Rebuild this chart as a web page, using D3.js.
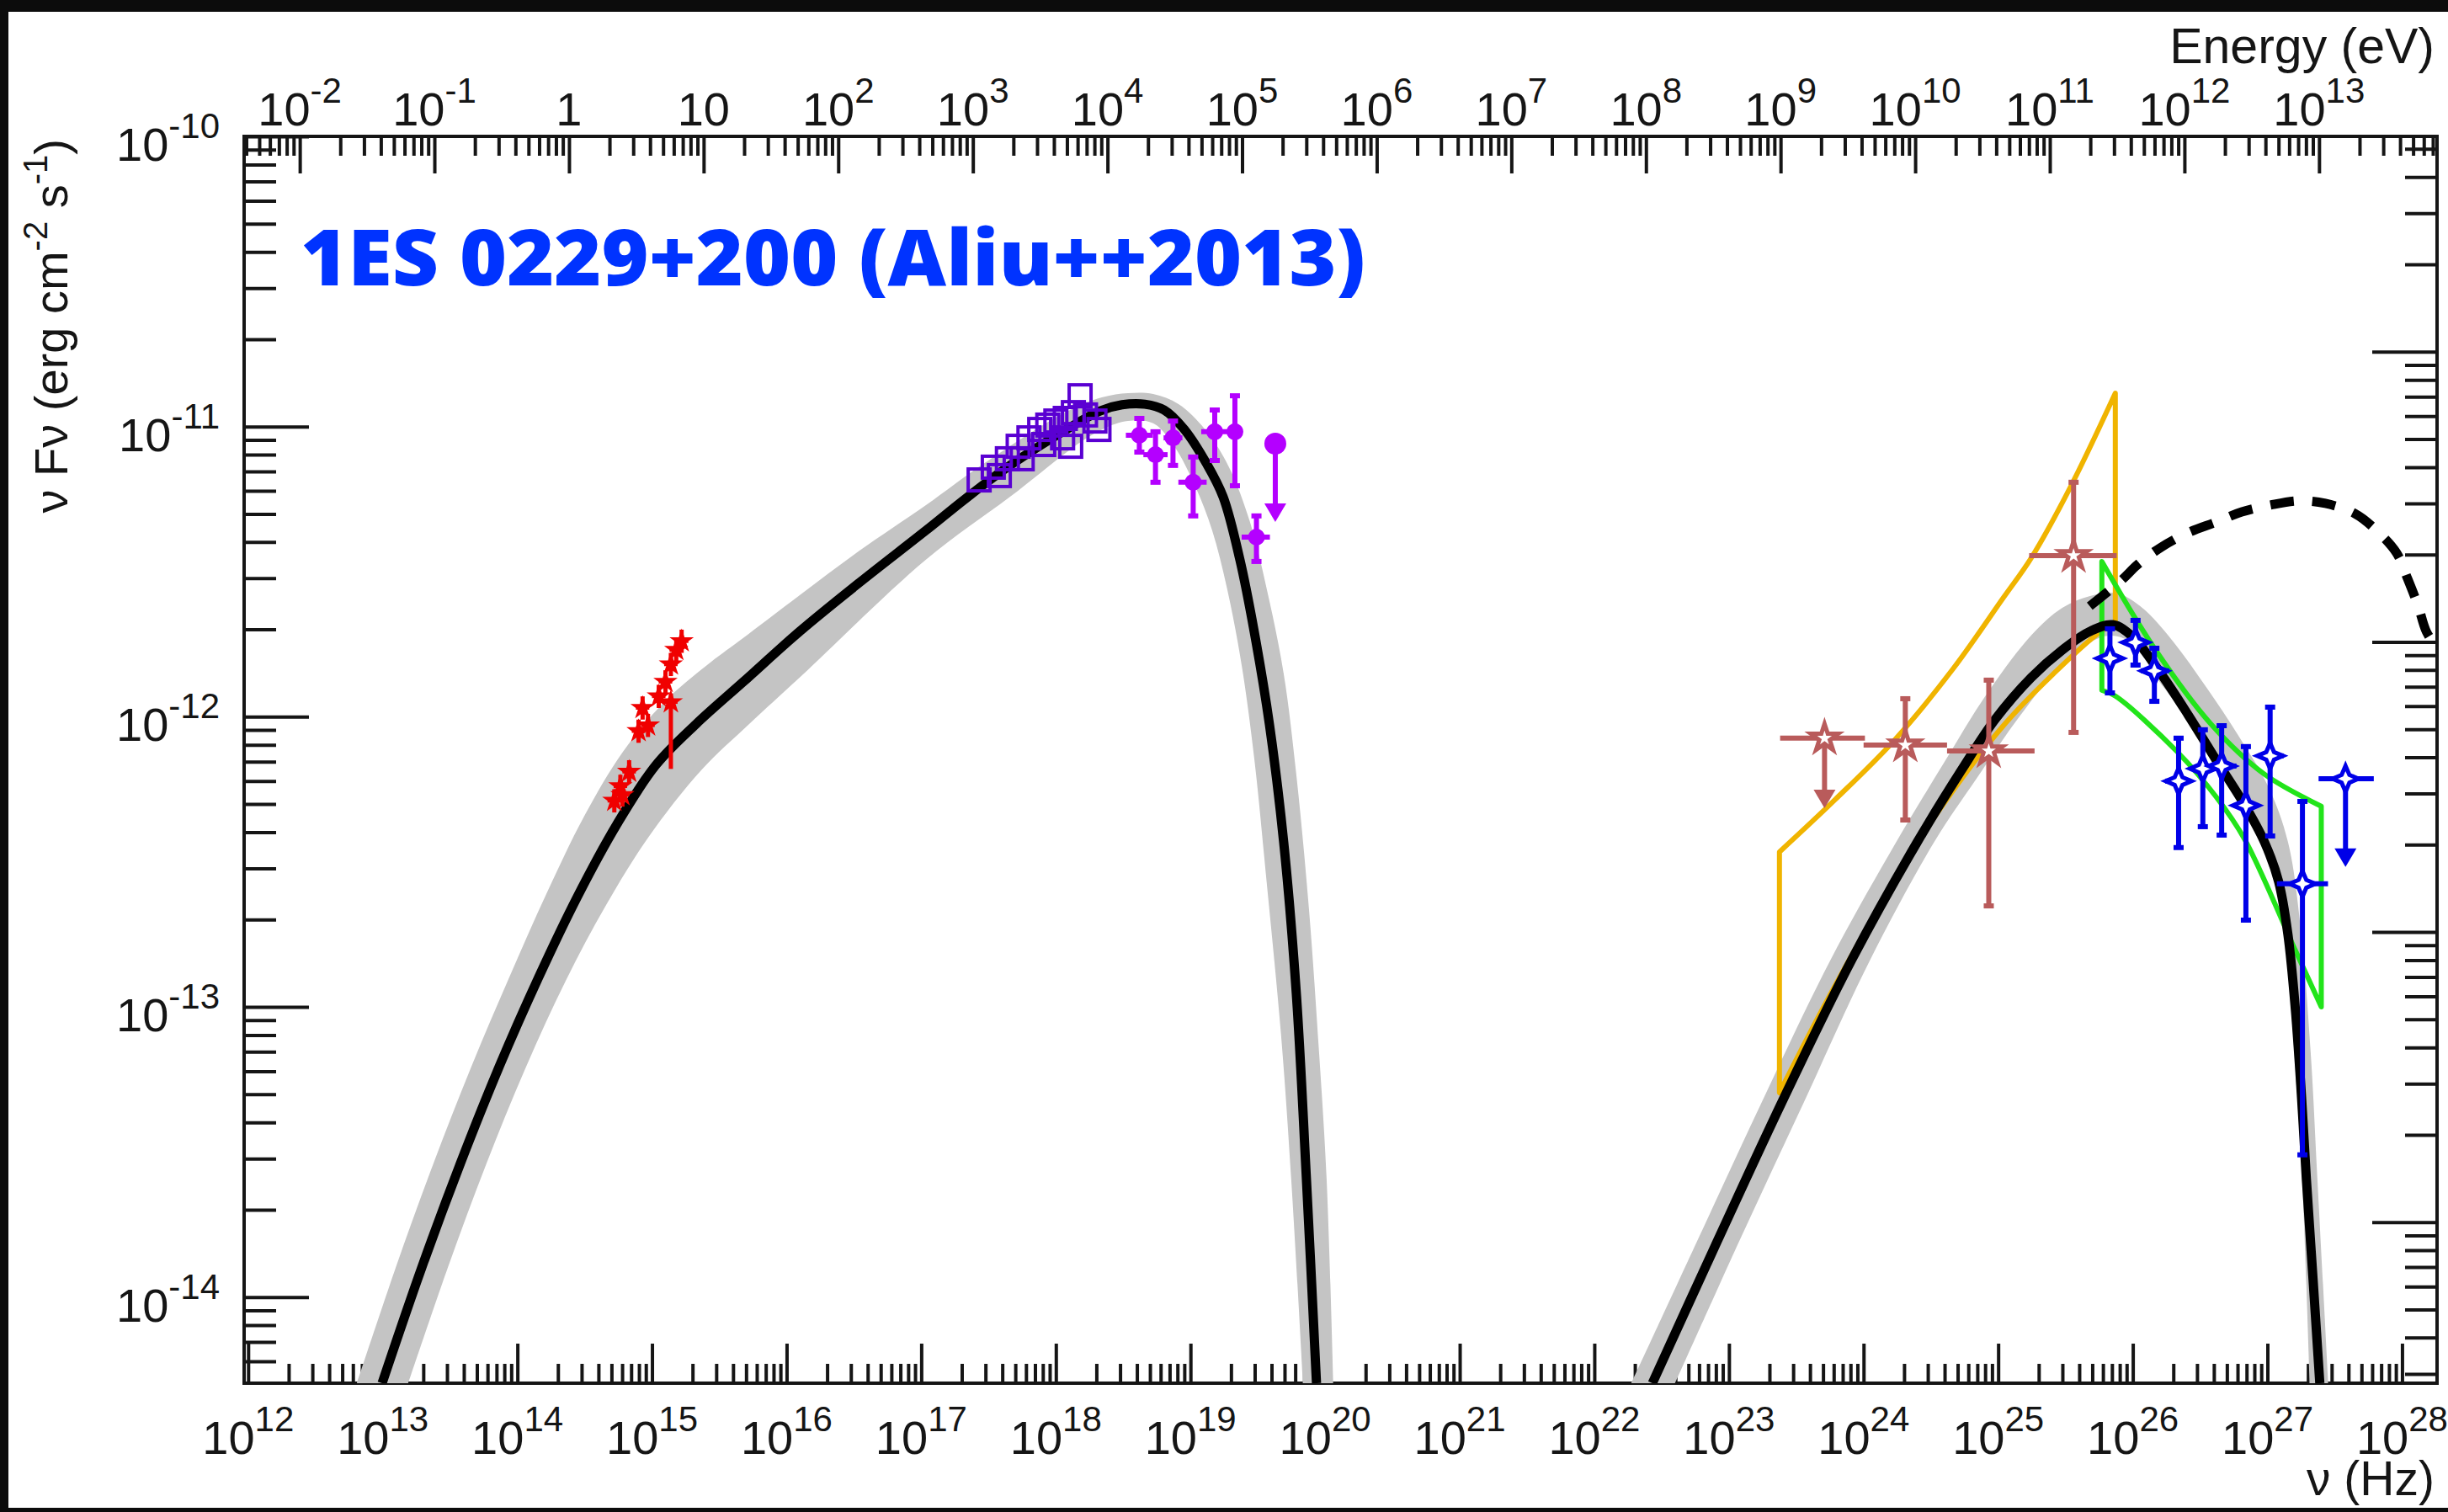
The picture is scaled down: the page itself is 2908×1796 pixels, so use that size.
<!DOCTYPE html>
<html>
<head>
<meta charset="utf-8">
<script src="https://cdn.jsdelivr.net/npm/d3@7"></script>
<style>
  body { margin: 0; background: #0c0c0c; }
  svg { display: block; }
  text { font-family: "Liberation Sans", Arial, Helvetica, sans-serif; fill: #151515; }
</style>
</head>
<body>
<svg id="chart" width="2908" height="1796"></svg>
<script>
// SED of 1ES 0229+200, values are log10(nu / Hz) and log10(nuFnu / erg cm-2 s-1)

// synchrotron + inverse Compton model (black line)
var syncModel = [
  [12.995, -14.297], [13.289, -13.899], [13.577, -13.539], [13.865, -13.206], [14.158, -12.898],
  [14.446, -12.620], [14.740, -12.370], [15.028, -12.167], [15.328, -12.025], [15.678, -11.880],
  [16.097, -11.706], [16.535, -11.540], [17.035, -11.358], [17.347, -11.242], [17.660, -11.134],
  [18.079, -11.010], [18.329, -10.946], [18.492, -10.925], [18.660, -10.923], [18.804, -10.943],
  [18.954, -11.010], [19.117, -11.126], [19.242, -11.242], [19.367, -11.459], [19.473, -11.706],
  [19.586, -12.025], [19.692, -12.431], [19.786, -12.953], [19.861, -13.592], [19.936, -14.297]
];
var icModel = [
  [22.431, -14.297], [22.912, -13.809], [23.406, -13.316], [23.913, -12.837], [24.400, -12.431],
  [24.726, -12.185], [24.976, -12.010], [25.245, -11.865], [25.476, -11.770], [25.682, -11.706],
  [25.851, -11.683], [25.995, -11.723], [26.208, -11.851], [26.414, -11.996], [26.620, -12.150],
  [26.833, -12.306], [26.977, -12.431], [27.083, -12.568], [27.152, -12.750], [27.208, -13.011],
  [27.252, -13.301], [27.289, -13.592], [27.339, -13.940], [27.389, -14.297]
];
// intrinsic (de-absorbed) model, dashed
var intrinsicModel = [
  [25.68, -11.619], [25.91, -11.532], [26.04, -11.474], [26.21, -11.416], [26.41, -11.366],
  [26.62, -11.329], [26.81, -11.294], [27.02, -11.271], [27.23, -11.256], [27.43, -11.265],
  [27.65, -11.300], [27.81, -11.358], [27.96, -11.436], [28.04, -11.523], [28.12, -11.619],
  [28.18, -11.706], [28.26, -11.764]
];

// grey uncertainty bands: outer edge and inner edge
var syncBandOuter = [
  [12.808, -14.297], [13.096, -13.899], [13.377, -13.539], [13.658, -13.206], [13.940, -12.898],
  [14.221, -12.605], [14.502, -12.338], [14.784, -12.121], [15.096, -11.947], [15.409, -11.822],
  [15.659, -11.735], [16.097, -11.581], [16.535, -11.430], [17.035, -11.271], [17.454, -11.131],
  [18.079, -10.949], [18.348, -10.899], [18.535, -10.885], [18.723, -10.888], [18.911, -10.923],
  [19.117, -11.015], [19.286, -11.140], [19.442, -11.329], [19.567, -11.561], [19.692, -11.851],
  [19.786, -12.199], [19.880, -12.663], [19.955, -13.156], [20.011, -13.592], [20.061, -14.297]
];
var syncBandInner = [
  [13.189, -14.297], [13.483, -13.899], [13.771, -13.539], [14.065, -13.206], [14.359, -12.910],
  [14.659, -12.649], [14.971, -12.417], [15.365, -12.185], [15.722, -12.025], [16.097, -11.865],
  [17.035, -11.459], [17.660, -11.242], [18.285, -11.024], [18.535, -10.981], [18.723, -10.989],
  [18.879, -11.068], [19.036, -11.207], [19.161, -11.358], [19.273, -11.561], [19.380, -11.822],
  [19.473, -12.141], [19.567, -12.576], [19.673, -13.098], [19.748, -13.592], [19.836, -14.297]
];
var icBandOuter = [
  [22.275, -14.297], [22.762, -13.809], [23.256, -13.316], [23.756, -12.837], [24.225, -12.446],
  [24.601, -12.156], [24.913, -11.923], [25.245, -11.720], [25.476, -11.625], [25.682, -11.584],
  [25.882, -11.575], [26.070, -11.625], [26.289, -11.735], [26.539, -11.894], [26.789, -12.069],
  [27.008, -12.243], [27.152, -12.431], [27.245, -12.721], [27.321, -13.156], [27.371, -13.592],
  [27.452, -14.297]
];
var icBandInner = [
  [22.600, -14.297], [23.075, -13.809], [23.569, -13.316], [24.050, -12.837], [24.526, -12.431],
  [24.838, -12.214], [25.163, -11.996], [25.476, -11.822], [25.789, -11.723], [25.976, -11.741],
  [26.208, -11.886], [26.476, -12.048], [26.727, -12.222], [26.945, -12.402], [27.058, -12.562],
  [27.127, -12.750], [27.177, -13.011], [27.220, -13.301], [27.258, -13.592], [27.314, -14.297]
];

// Fermi-LAT butterfly (yellow) and VERITAS butterfly (green)
var fermiBowUpper = [[23.375, -12.466], [23.788, -12.286], [24.225, -12.083], [24.663, -11.836], [25.038, -11.590], [25.245, -11.453], [25.538, -11.207], [25.870, -10.885]];
var fermiBowLower = [[23.375, -13.296], [23.663, -13.035], [23.950, -12.791], [24.225, -12.570], [24.538, -12.338], [25.038, -12.031], [25.413, -11.851], [25.745, -11.712], [25.870, -11.677]];
var veritasBowUpper = [[25.77, -11.465], [26.16, -11.764], [26.58, -12.025], [26.98, -12.199], [27.40, -12.309]];
var veritasBowLower = [[25.77, -11.909], [25.87, -11.929], [26.33, -12.121], [26.62, -12.277], [26.83, -12.422], [27.21, -12.808], [27.40, -13.000]];

// points: logNu, logF, logNuLo, logNuHi, logFLo, logFHi, upper limit
var fermiPts = [
  [23.71, -12.074, 23.38, 24.01, -12.315, -12.074, 1],
  [24.31, -12.098, 24.00, 24.62, -12.356, -11.938, 0],
  [24.93, -12.118, 24.62, 25.27, -12.652, -11.874, 0],
  [25.56, -11.445, 25.23, 25.88, -12.054, -11.192, 0]
];
var veritasPts = [
  [25.83, -11.799, 25.75, 25.91, -11.918, -11.697, 0],
  [26.02, -11.744, 25.93, 26.11, -11.822, -11.668, 0],
  [26.16, -11.842, 26.06, 26.27, -11.947, -11.764, 0],
  [26.34, -12.222, 26.24, 26.43, -12.451, -12.074, 0],
  [26.52, -12.179, 26.43, 26.62, -12.379, -12.045, 0],
  [26.66, -12.170, 26.58, 26.77, -12.408, -12.031, 0],
  [26.84, -12.306, 26.75, 26.93, -12.701, -12.103, 0],
  [27.02, -12.135, 26.93, 27.12, -12.411, -11.967, 0],
  [27.26, -12.576, 27.07, 27.45, -13.510, -12.292, 0],
  [27.58, -12.214, 27.38, 27.79, -12.518, -12.214, 1]
];
var hardXPts = [
  [18.62, -11.030, 18.52, 18.72, -11.088, -10.972, 0],
  [18.74, -11.097, 18.65, 18.83, -11.192, -11.018, 0],
  [18.87, -11.039, 18.80, 18.94, -11.134, -10.981, 0],
  [19.02, -11.192, 18.91, 19.12, -11.308, -11.105, 0],
  [19.18, -11.018, 19.08, 19.28, -11.117, -10.943, 0],
  [19.33, -11.018, 19.30, 19.36, -11.204, -10.894, 0],
  [19.49, -11.381, 19.38, 19.59, -11.465, -11.308, 0],
  [19.63, -11.059, 19.63, 19.63, -11.329, -11.059, 1]
];
var softXPts = [
  [17.43, -11.184], [17.535, -11.140], [17.64, -11.111], [17.58, -11.169], [17.72, -11.068],
  [17.80, -11.039], [17.75, -11.111], [17.88, -11.010], [17.94, -10.995], [17.91, -11.062],
  [18.00, -10.981], [18.07, -10.972], [18.05, -11.039], [18.13, -10.952], [18.18, -10.894],
  [18.22, -10.960], [18.29, -10.981], [18.32, -11.010], [18.11, -11.068]
];
// optical / UV: logNu, logF, logFLo, logFHi
var opticalPts = [
  [14.72, -12.29, -12.33, -12.25], [14.765, -12.24, -12.28, -12.20], [14.78, -12.27, -12.31, -12.23],
  [14.83, -12.19, -12.23, -12.15], [14.90, -12.05, -12.09, -12.01], [14.93, -11.97, -12.01, -11.93],
  [14.97, -12.03, -12.07, -11.99], [15.05, -11.93, -11.97, -11.89], [15.10, -11.88, -11.92, -11.84],
  [15.14, -11.82, -11.86, -11.78], [15.18, -11.77, -11.81, -11.73], [15.22, -11.74, -11.78, -11.70],
  [15.14, -11.95, -12.18, -11.92]
];

var hPlanck = 4.135667e-15; // eV s
var frame = {left: 290, right: 2895, top: 162, bottom: 1643};

var svg = d3.select("#chart");
var p10 = function(v) { return Math.pow(10, v); };

var x = d3.scaleLog().domain([p10(11.97), p10(28.26)]).range([frame.left, frame.right]);
var y = d3.scaleLog().domain([p10(-14.297), 1e-10]).range([frame.bottom, frame.top]);
// right hand axis of the original canvas is offset from the left one
var yRight = d3.scaleLog().domain([p10(-13.555), p10(-9.258)]).range([frame.bottom, frame.top]);
var xE = d3.scaleLog().domain([p10(11.97) * hPlanck, p10(28.26) * hPlanck]).range([frame.left, frame.right]);

var px = function(d) { return x(p10(d[0])); };
var py = function(d) { return y(p10(d[1])); };

// page background
svg.append("rect").attr("x", 10).attr("y", 14).attr("width", 2898).attr("height", 1777).attr("fill", "#ffffff");

// log ticks, split into decades and the 2..9 in between
function logTicks(scale) {
  var dom = scale.domain(), major = [], minor = [];
  var lo = Math.floor(Math.log10(dom[0])), hi = Math.ceil(Math.log10(dom[1]));
  for (var k = lo; k <= hi; k++) {
    for (var m = 1; m < 10; m++) {
      var v = m * p10(k);
      if (v < dom[0] * 0.9999 || v > dom[1] * 1.0001) continue;
      (m === 1 ? major : minor).push(v);
    }
  }
  return {major: major, minor: minor};
}

function drawAxis(axisFn, scale, transform, majorLen, minorLen) {
  var t = logTicks(scale);
  [[t.major, majorLen], [t.minor, minorLen]].forEach(function(set) {
    var g = svg.append("g").attr("transform", transform)
      .call(axisFn(scale).tickValues(set[0]).tickSize(set[1]).tickSizeOuter(0).tickFormat(""));
    g.select(".domain").remove();
    g.selectAll(".tick line").attr("stroke", "#151515").attr("stroke-width", 4);
  });
  return t;
}

var xt = drawAxis(d3.axisBottom, x, "translate(0," + frame.bottom + ")", -47, -23);
var et = drawAxis(d3.axisTop, xE, "translate(0," + frame.top + ")", -44, -23);
var yt = drawAxis(d3.axisLeft, y, "translate(" + frame.left + ",0)", -77, -38);
drawAxis(d3.axisRight, yRight, "translate(" + frame.right + ",0)", -77, -38);

// frame
svg.append("rect")
  .attr("x", frame.left).attr("y", frame.top)
  .attr("width", frame.right - frame.left).attr("height", frame.bottom - frame.top)
  .attr("fill", "none").attr("stroke", "#151515").attr("stroke-width", 4);

// "10^k" style labels
function powLabel(k, lx, ly, anchor, plain) {
  var t = svg.append("text").attr("x", lx).attr("y", ly)
    .attr("text-anchor", anchor).style("font-size", "56px");
  if (plain && k === 0) { t.text("1"); return; }
  if (plain && k === 1) { t.text("10"); return; }
  t.append("tspan").text("10");
  t.append("tspan").attr("dy", -27).style("font-size", "42px").text(k);
}

xt.major.forEach(function(v) { powLabel(Math.round(Math.log10(v)), x(v), 1727, "middle"); });
et.major.forEach(function(v) { powLabel(Math.round(Math.log10(v)), xE(v), 149, "middle", true); });
yt.major.forEach(function(v) { powLabel(Math.round(Math.log10(v)), 261, y(v) + 29, "end"); });

// axis titles
svg.append("text").attr("x", 2892).attr("y", 75).attr("text-anchor", "end")
  .style("font-size", "59px").text("Energy (eV)");
svg.append("text").attr("x", 2892).attr("y", 1776).attr("text-anchor", "end")
  .style("font-size", "57px").text("\u03bd (Hz)");
var yTitle = svg.append("text").attr("transform", "translate(80,165) rotate(-90)")
  .attr("text-anchor", "end").style("font-size", "56px");
yTitle.append("tspan").text("\u03bd F\u03bd (erg cm");
yTitle.append("tspan").attr("dy", -24).style("font-size", "40px").text("-2");
yTitle.append("tspan").attr("dy", 24).text(" s");
yTitle.append("tspan").attr("dy", -24).style("font-size", "40px").text("-1");
yTitle.append("tspan").attr("dy", 24).text(")");

// plot title
svg.append("text").attr("x", 357).attr("y", 339)
  .attr("textLength", 1265).attr("lengthAdjust", "spacingAndGlyphs")
  .style("font-family", "'Open Sans', Lato, sans-serif").style("font-weight", 800)
  .style("font-size", "93px").style("fill", "#0033ff")
  .text("1ES 0229+200 (Aliu++2013)");

// data pane, clipped to the frame
svg.append("defs").append("clipPath").attr("id", "dataPane")
  .append("rect").attr("x", frame.left).attr("y", frame.top)
  .attr("width", frame.right - frame.left).attr("height", frame.bottom - frame.top);
var pane = svg.append("g").attr("clip-path", "url(#dataPane)");

var smooth = d3.line().x(px).y(py).curve(d3.curveCatmullRom.alpha(0.5));

// bands
[[syncBandOuter, syncBandInner], [icBandOuter, icBandInner]].forEach(function(b) {
  pane.append("path")
    .attr("d", smooth(b[0]) + "L" + smooth(b[1].slice().reverse()).slice(1) + "Z")
    .attr("fill", "#c4c4c4").attr("stroke", "none");
});

// butterflies: two smooth edges joined by straight sides
function bowtie(upper, lower, color) {
  var d = smooth(upper) + "L" + smooth(lower.slice().reverse()).slice(1) + "Z";
  pane.append("path").attr("d", d)
    .attr("fill", "none").attr("stroke", color).attr("stroke-width", 6)
    .attr("stroke-linejoin", "round");
}
bowtie(fermiBowUpper, fermiBowLower, "#f0b400");
bowtie(veritasBowUpper, veritasBowLower, "#22e41a");

// models
[syncModel, icModel].forEach(function(m) {
  pane.append("path").attr("d", smooth(m))
    .attr("fill", "none").attr("stroke", "#000").attr("stroke-width", 11);
});
pane.append("path").attr("d", smooth(intrinsicModel))
  .attr("fill", "none").attr("stroke", "#000").attr("stroke-width", 11)
  .attr("stroke-dasharray", "28,22");

// points with error bars
function errorPoints(data, color, width, marker) {
  var g = pane.append("g").attr("stroke", color).attr("stroke-width", width).attr("fill", color);
  data.forEach(function(d) {
    var cx = x(p10(d[0])), cy = y(p10(d[1]));
    g.append("line").attr("x1", x(p10(d[2]))).attr("x2", x(p10(d[3]))).attr("y1", cy).attr("y2", cy);
    if (d[6]) {
      var yEnd = y(p10(d[4]));
      g.append("line").attr("x1", cx).attr("x2", cx).attr("y1", cy).attr("y2", yEnd - 18);
      g.append("path").attr("stroke", "none")
        .attr("d", "M" + (cx - 13) + "," + (yEnd - 22) + "L" + (cx + 13) + "," + (yEnd - 22) + "L" + cx + "," + yEnd + "Z");
    } else {
      var y0 = y(p10(d[4])), y1 = y(p10(d[5]));
      g.append("line").attr("x1", cx).attr("x2", cx).attr("y1", y0).attr("y2", y1);
      g.append("line").attr("x1", cx - 6).attr("x2", cx + 6).attr("y1", y0).attr("y2", y0);
      g.append("line").attr("x1", cx - 6).attr("x2", cx + 6).attr("y1", y1).attr("y2", y1);
    }
    marker(g, cx, cy, d);
  });
}

var star4 = {
  draw: function(ctx, size) {
    var r = Math.sqrt(size) / 2, k = r * 0.3;
    ctx.moveTo(0, -r); ctx.lineTo(k, -k); ctx.lineTo(r, 0); ctx.lineTo(k, k);
    ctx.lineTo(0, r); ctx.lineTo(-k, k); ctx.lineTo(-r, 0); ctx.lineTo(-k, -k); ctx.closePath();
  }
};

errorPoints(fermiPts, "#b95b5b", 6, function(g, cx, cy) {
  g.append("path").attr("transform", "translate(" + cx + "," + cy + ")")
    .attr("d", d3.symbol(d3.symbolStar, 330)()).attr("fill", "#fff").attr("stroke-width", 5);
});
errorPoints(veritasPts, "#0000e8", 6, function(g, cx, cy) {
  g.append("path").attr("transform", "translate(" + cx + "," + cy + ")")
    .attr("d", d3.symbol(star4, 950)()).attr("fill", "#fff").attr("stroke-width", 5);
});
errorPoints(hardXPts, "#b400ff", 6, function(g, cx, cy, d) {
  g.append("circle").attr("cx", cx).attr("cy", cy).attr("r", d[6] ? 13 : 10).attr("stroke", "none");
});

// soft X-ray open squares
pane.append("g").selectAll("rect").data(softXPts).join("rect")
  .attr("x", function(d) { return px(d) - 13; }).attr("y", function(d) { return py(d) - 13; })
  .attr("width", 26).attr("height", 26)
  .attr("fill", "none").attr("stroke", "#5a00d2").attr("stroke-width", 4);

// optical / UV stars
var opt = pane.append("g").attr("stroke", "#f00000").attr("fill", "#f00000");
opticalPts.forEach(function(d) {
  var cx = px(d), cy = py(d);
  opt.append("line").attr("x1", cx).attr("x2", cx)
    .attr("y1", y(p10(d[2]))).attr("y2", y(p10(d[3]))).attr("stroke-width", 5);
  opt.append("line").attr("x1", cx - 8).attr("x2", cx + 8)
    .attr("y1", cy).attr("y2", cy).attr("stroke-width", 4);
  opt.append("path").attr("transform", "translate(" + cx + "," + cy + ")")
    .attr("d", d3.symbol(d3.symbolStar, 120)()).attr("stroke-width", 3);
});
</script>
</body>
</html>
